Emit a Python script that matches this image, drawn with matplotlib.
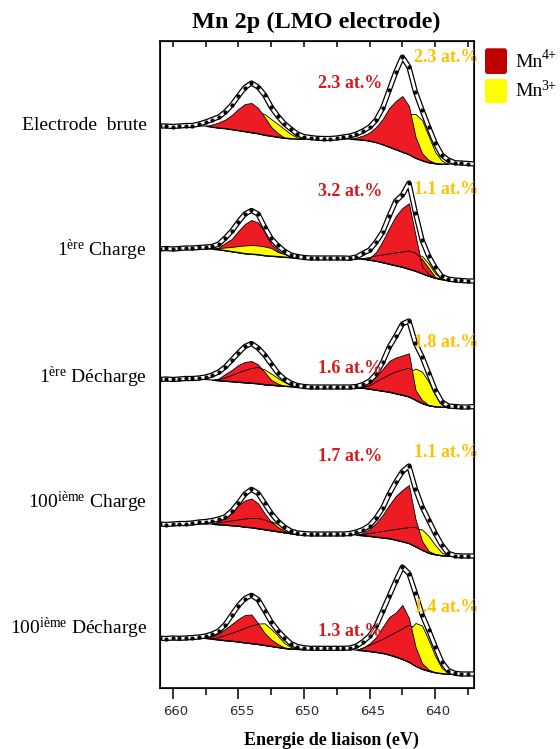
import numpy as np
import matplotlib
matplotlib.use('Agg')
import matplotlib.pyplot as plt
import matplotlib.patheffects as pe
import matplotlib.transforms as mtransforms
from matplotlib.patches import FancyBboxPatch

plt.rcParams['font.family'] = 'Liberation Serif'
plt.rcParams['mathtext.fontset'] = 'custom'
plt.rcParams['mathtext.rm'] = 'Liberation Serif'
plt.rcParams['mathtext.it'] = 'Liberation Serif:italic'
plt.rcParams['mathtext.bf'] = 'Liberation Serif:bold'

# energy grid (eV), 661 -> 637 by 0.5
energy = np.linspace(661.0, 637.0, 49)

samples = ['Electrode  brute', r'1$^{\mathrm{ère}}$ Charge', r'1$^{\mathrm{ère}}$ Décharge',
           r'100$^{\mathrm{ième}}$ Charge', r'100$^{\mathrm{ième}}$ Décharge']
mn4_at = ['2.3', '3.2', '1.6', '1.7', '1.3']
mn3_at = ['2.3', '1.1', '1.8', '1.1', '1.4']

p1_data = [38, 38, 37.5, 38, 38.5, 38.5, 40, 42,
           44.5, 47, 52, 59, 68, 76.5, 81, 77,
           69, 57, 48, 40.5, 35, 30, 27.5, 26.5,
           25.7, 25.5, 25.5, 26, 27, 28, 30, 33,
           37, 44, 56, 74, 92, 107, 97, 72,
           54, 37, 21, 9, 4, 1.3, 1, 0.5, 0]
p1_bg = [38, 38, 38, 38, 38, 38, 38, 38,
         37, 36, 35.5, 34.5, 33.5, 32.5, 31.5, 30.5,
         29, 28, 27, 26, 25.5, 25, 25, 25,
         25, 25, 25, 25, 25, 25, 24.5, 24,
         23, 21.5, 19.5, 17, 14.5, 12, 9.5, 6,
         3.5, 1.5, 0.5, 0, 0, 0, 0, 0, 0]

p2_data = [32, 32.5, 32, 32.5, 33, 33, 33.5, 34,
           34.5, 37, 43, 50, 59, 67, 70.5, 67,
           54, 42.5, 35.5, 30, 26, 24.5, 23.5, 23,
           23, 23, 23, 23, 23, 22.7, 24, 27.7,
           31, 39, 49, 65, 80, 86, 98, 68,
           41, 25, 13.5, 4.5, 2, 1, 0.5, 0, 0]
p2_bg = [32, 32, 32, 32, 32, 32, 32, 32,
         32, 31.5, 30.5, 29.5, 28.5, 27.5, 27, 26.5,
         25.5, 25, 24.5, 24, 23.5, 22.7, 22.7, 22.7,
         22.7, 22.7, 22.7, 22.7, 22.7, 22.7, 22.5, 22,
         21, 20, 18.5, 17, 15.5, 14, 12, 10,
         7.5, 5, 3, 1.5, 0.5, 0, 0, 0, 0]

p3_data = [27.5, 28, 27.5, 28, 28.5, 28.5, 29, 30,
           32, 35, 40, 47, 54, 60.5, 63.5, 59,
           52, 43, 34, 28, 24, 21.5, 20.5, 20,
           20, 20, 20, 20, 20, 20, 20.5, 22.5,
           26, 33, 45, 60, 71, 83, 86, 63.7,
           50.3, 33.7, 17, 5.3, 1, 0.5, 0, 0, 0.5]
p3_bg = [27.5, 27.5, 27.5, 27.5, 27.5, 27.5, 27.5, 27.5,
         27, 26.5, 26, 25.5, 25, 24.5, 24, 23.5,
         22.5, 22, 21.5, 21, 20.5, 19.7, 19.7, 19.7,
         19.7, 19.7, 19.7, 19.7, 19.7, 19.7, 19.5, 19,
         18, 17, 16, 15, 13.5, 12, 10.3, 7,
         3.7, 1.5, 0.5, 0, 0, 0, 0, 0, 0]

p4_data = [32, 31.5, 32, 32.5, 32.5, 33, 34, 34.5,
           35.5, 37, 39.3, 45, 53, 62, 66.7, 62.7,
           52.7, 42.7, 35, 29, 25, 23, 22.5, 22,
           22, 22, 22, 22, 22, 22.5, 24, 26.5,
           30.5, 38, 48, 62, 74, 84.3, 90, 67,
           49.3, 36, 22.7, 11, 2.7, 0.5, 0, 0, 0]
p4_bg = [32, 32, 32, 32, 32, 32, 32, 32,
         32, 31.5, 31, 30.5, 30, 29, 28.5, 27.5,
         26.5, 25.5, 24.5, 23.5, 22.5, 21.7, 21.7, 21.7,
         21.7, 21.7, 21.7, 21.7, 21.7, 21.7, 21, 20.5,
         19.8, 19, 18.3, 17.5, 16, 14.5, 12.7, 9.5,
         6, 3, 1.5, 0.5, 0, 0, 0, 0, 0]

p5_data = [35.7, 35.5, 36, 35.7, 36, 36.5, 37, 38,
           40, 43, 49.5, 59, 68.5, 75.5, 78.7, 74.5,
           63.5, 52, 43.5, 36.5, 30.5, 27.5, 26.3, 25.7,
           25.7, 25.7, 25.7, 25.7, 25.7, 26, 28, 32.3,
           38, 48, 63, 78, 93, 107, 100.5, 80.7,
           59.5, 44, 27.5, 12, 3.5, 0.7, 0, 0, 0]
p5_bg = [35.7, 35.7, 35.7, 35.7, 35.7, 35.7, 35.7, 35.7,
         35, 34.3, 33.5, 33, 32.2, 31.4, 30.6, 29.8,
         28.8, 27.8, 26.8, 25.8, 25.2, 24.8, 24.5, 24.5,
         24.5, 24.5, 24.5, 24.5, 24.5, 24.5, 24, 23.5,
         22.7, 21.8, 20.8, 19.2, 17.2, 14.8, 12, 8,
         5, 3, 1.5, 0.5, 0, 0, 0, 0, 0]

# fitted components: (first energy, values every 0.5 eV towards lower BE)
p1_mn4_12 = (657.5, [38, 39.5, 41.5, 44.5, 49, 55, 60, 61, 56, 47, 37, 31, 26.5, 25.5])
p1_mn3_12 = (654.5, [32.5, 39, 52, 50, 45, 40, 35, 30, 26.5, 25])
p1_mn4_32 = (646.5, [25, 26.5, 28.5, 31.5, 37, 45, 56, 63, 68, 58, 27.3, 10.7, 4, 1, 0])
p1_mn3_32 = (644.0, [19.5, 22, 28, 39, 50, 50, 44, 28, 12, 3.5, 0])

p2_mn4_12 = (657.0, [32, 33.5, 38, 42, 50, 57, 61, 58.5, 49, 37, 31, 26, 23.5])
p2_mn3_12 = (657.0, [32, 33, 33.5, 34, 35, 35.5, 36, 35.5, 34.5, 33, 29, 27, 24.5, 22.7])
p2_mn3_32 = (643.5, [17, 18, 20, 24, 27, 25, 17.5, 7.5, 2.5, 0.5])
p2_mn4w_32 = (646.0, [22.5, 23, 24, 25, 26, 27, 28, 29, 30, 28, 22, 13, 4, 1.5])
p2_mn4_32 = (645.5, [22, 23, 29, 40, 53, 65, 73, 77.7, 46, 14.3, 7, 3])

p3_mn4w_12 = (657.0, [27, 27.5, 29, 31.5, 34, 36.5, 38.5, 39.5, 37, 32, 27, 23, 20.5])
p3_mn3_12 = (655.0, [25, 28, 33, 39.7, 37.5, 33.5, 29, 25, 22, 19.7])
p3_mn4_12 = (657.0, [27, 28.5, 33, 37, 42, 45, 46, 42.5, 35, 27, 23.5, 21])
p3_mn4w_32 = (646.0, [19.5, 19.5, 21, 25, 28.5, 32, 35, 37, 38.7, 35, 22, 9, 2, 0])
p3_mn3_32 = (643.5, [15, 20, 28, 35, 38.5, 35.3, 25.3, 12, 2, 0])
p3_mn4_32 = (646.0, [19.5, 22, 26, 31, 38, 46, 49.5, 51.5, 53.7, 17, 7, 2, 0.5])

p4_mn4w_12 = (657.0, [32, 33, 34, 35, 36, 37, 37.5, 37.5, 36, 33.5, 30, 27, 23.5, 21.7])
p4_mn3_12 = (654.0, [28.5, 30, 33, 34.8, 32, 28.5, 24, 21.7])
p4_mn4_12 = (657.0, [32, 34.5, 39, 46, 51, 55.5, 57.5, 52.7, 42.7, 34.3, 29, 25, 22.5])
p4_mn4w_32 = (646.0, [21, 21.5, 22.5, 23.5, 24.5, 25.5, 26.5, 27.5, 28.3, 28.7, 25, 17, 9, 3, 0])
p4_mn3_32 = (643.0, [16, 19, 23, 27.7, 26.5, 20, 11, 3.5, 0.5, 0])
p4_mn4_32 = (646.0, [21, 23, 27, 33, 41, 51, 60, 66, 71, 37, 15, 5, 2, 0.5])

p5_mn4w_12 = (657.0, [35, 36.5, 38.5, 40.5, 43, 45.5, 48, 49.5, 47, 41, 34, 28.5, 25.5, 24.8])
p5_mn3_12 = (655.0, [32.5, 38, 45, 50.5, 50.7, 45, 38.5, 31, 27, 25, 24.5])
p5_mn4_12 = (657.5, [35.7, 37.5, 40.5, 45, 50, 55, 59, 59.5, 50.7, 41, 34.5, 30, 26.5, 25.2])
p5_mn4w_32 = (646.0, [24, 26, 28.5, 31.5, 34.5, 38, 41.5, 45, 48.5, 47, 38, 25, 12, 4, 0])
p5_mn3_32 = (643.5, [20, 26, 34, 44, 51, 48.5, 34, 18, 6, 1.3, 0])
p5_mn4_32 = (646.0, [24, 26.5, 30.5, 37, 47, 57, 61.5, 69, 56, 27.3, 10.7, 4.5, 1.5])

RED = '#ED1C24'
YEL = '#FFFF00'

# draw order inside each peak group = list order
panels = [
    (p1_data, p1_bg, [[(YEL, p1_mn3_12), (RED, p1_mn4_12)],
                      [(YEL, p1_mn3_32), (RED, p1_mn4_32)]]),
    (p2_data, p2_bg, [[(RED, p2_mn4_12), (YEL, p2_mn3_12)],
                      [(YEL, p2_mn3_32), (RED, p2_mn4w_32), (RED, p2_mn4_32)]]),
    (p3_data, p3_bg, [[(RED, p3_mn4w_12), (YEL, p3_mn3_12), (RED, p3_mn4_12)],
                      [(RED, p3_mn4w_32), (YEL, p3_mn3_32), (RED, p3_mn4_32)]]),
    (p4_data, p4_bg, [[(RED, p4_mn4w_12), (YEL, p4_mn3_12), (RED, p4_mn4_12)],
                      [(RED, p4_mn4w_32), (YEL, p4_mn3_32), (RED, p4_mn4_32)]]),
    (p5_data, p5_bg, [[(RED, p5_mn4w_12), (YEL, p5_mn3_12), (RED, p5_mn4_12)],
                      [(RED, p5_mn4w_32), (YEL, p5_mn3_32), (RED, p5_mn4_32)]]),
]
offsets = [524.3, 407.3, 281.3, 132.3, 14.3]
label_y = [126, 250, 377, 502, 628]          # figure pixels
mn4_pos = [605.3, 496.6, 319.3, 231.3, 56.3]  # data y of the labels
mn3_pos = [630.3, 498.3, 345.3, 235.3, 81.3]


def comp_xy(comp, bg):
    start, vals = comp
    i0 = int(round((energy[0] - start) / 0.5))
    n = len(vals)
    return energy[i0:i0 + n], np.array(bg[i0:i0 + n]), np.array(vals)


W, H = 560, 749
fig = plt.figure(figsize=(W / 100, H / 100), dpi=100)
ax = fig.add_axes([160 / W, 1 - 688.3 / H, 314 / W, 647.6 / H])
ax.set_xlim(660.97, 637.04)
ax.set_ylim(0, 647.6)

for (data, bg, groups), off in zip(panels, offsets):
    bg = np.array(bg)
    for group in groups:
        polys = []
        for color, comp in group:
            x, lo, hi = comp_xy(comp, bg)
            p = ax.fill_between(x, off + lo, off + hi, facecolor=color,
                                edgecolor='black', linewidth=0.6, zorder=2)
            polys.append(p)
        # outlines of hidden red components seen through the main one
        if group[-1][0] == RED:
            clip = polys[-1]
            for (color, comp) in group[:-1]:
                if color != RED:
                    continue
                x, lo, hi = comp_xy(comp, bg)
                ln, = ax.plot(x, off + hi, color='black', lw=0.6, zorder=2.5)
                ln.set_clip_path(clip.get_paths()[0], clip.get_transform())
    ax.plot(energy, off + bg, color='black', lw=0.8, zorder=2.6)
    y = off + np.array(data)
    ax.plot(energy, y, color='white', lw=2.0, zorder=3,
            path_effects=[pe.Stroke(linewidth=3.8, foreground='black'), pe.Normal()])
    ax.plot(energy, y, 'o', ms=2.0, color='black', zorder=4)

for i in range(5):
    ax.text(646.5, mn4_pos[i], mn4_at[i] + ' at.%', color='#D7191C', fontsize=13,
            fontweight='bold', ha='center', va='center', zorder=5)
    ax.text(639.15, mn3_pos[i], mn3_at[i] + ' at.%', color='#FFC000', fontsize=13,
            fontweight='bold', ha='center', va='center', zorder=5, clip_on=False)
    fig.text(147 / W, 1 - label_y[i] / H, samples[i], fontsize=14,
             ha='right', va='center')

for s in ax.spines.values():
    s.set_linewidth(1.2)
ax.set_yticks([])
ax.set_xticks([660, 655, 650, 645, 640])
ax.set_xticks(np.arange(657.5, 637, -5), minor=True)
ax.tick_params(axis='x', which='major', direction='out', length=8, width=1.1,
               pad=4, labelsize=9.5, labelcolor='#2b2b3b')
ax.tick_params(axis='x', which='minor', direction='out', length=5, width=1.1)
shift = mtransforms.ScaledTranslation(3 / 100, 0, fig.dpi_scale_trans)
for lab in ax.get_xticklabels():
    lab.set_family('DejaVu Sans')
    lab.set_transform(lab.get_transform() + shift)

top = ax.twiny()
top.set_xlim(ax.get_xlim())
top.set_xticks([660, 655, 650, 645, 640])
top.set_xticks(np.arange(657.5, 637, -5), minor=True)
top.tick_params(axis='x', which='both', direction='in', length=4, width=1.1,
                labeltop=False)

fig.text(316.5 / W, 1 - 22 / H, 'Mn 2p (LMO electrode)', fontsize=17.5,
         fontweight='bold', ha='center', va='center')
fig.text(331.5 / W, 1 - 740 / H, 'Energie de liaison (eV)', fontsize=13,
         fontweight='bold', ha='center', va='center')

# legend
for (y0, y1), col, sup in [((48.3, 74), '#C00000', '4+'), ((79, 103), YEL, '3+')]:
    fig.patches.append(FancyBboxPatch((485 / W, 1 - y1 / H), 22 / W, (y1 - y0) / H,
                                      boxstyle='round,pad=0,rounding_size=0.004',
                                      facecolor=col, edgecolor='none',
                                      transform=fig.transFigure))
    fig.text(515 / W, 1 - ((y0 + y1) / 2 + 1) / H, 'Mn', fontsize=14,
             ha='left', va='center')
    fig.text(541.5 / W, 1 - (y0 + 7) / H, sup, fontsize=10, ha='left', va='center')

fig.savefig('out.png', dpi=100)
